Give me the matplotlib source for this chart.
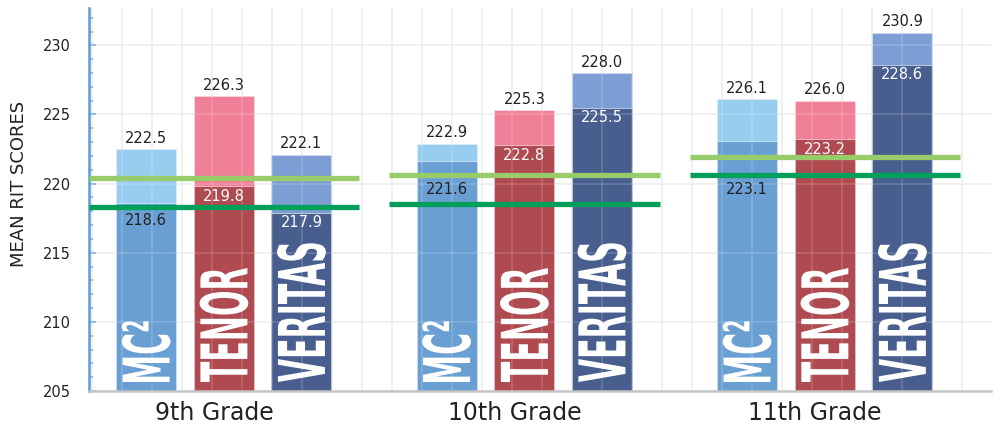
import numpy as np
import matplotlib.pyplot as plt
from matplotlib.textpath import TextPath
from matplotlib.patches import PathPatch
from matplotlib.font_manager import FontProperties
from matplotlib.transforms import Affine2D, ScaledTranslation

grades = ['9th Grade', '10th Grade', '11th Grade']
schools = ['MC²', 'TENOR', 'VERITAS']

# lower (darker) and upper (lighter) mean RIT scores per school, per grade
low_scores = {
    'MC²': [218.6, 221.6, 223.1],
    'TENOR': [219.8, 222.8, 223.2],
    'VERITAS': [217.9, 225.5, 228.6],
}
high_scores = {
    'MC²': [222.5, 222.9, 226.1],
    'TENOR': [226.3, 225.3, 226.0],
    'VERITAS': [222.1, 228.0, 230.9],
}
# reference lines per grade
norm_light = [220.4, 220.6, 221.9]
norm_dark = [218.3, 218.5, 220.6]

low_colors = {'MC²': '#6a9fd4', 'TENOR': '#ae4a50', 'VERITAS': '#475e8f'}
high_colors = {'MC²': '#97cdef', 'TENOR': '#f08098', 'VERITAS': '#7d9ed4'}
low_text = {'MC²': '#222222', 'TENOR': 'white', 'VERITAS': 'white'}

YMIN, YMAX = 205, 232.7
offsets = [-0.259, 0, 0.258]
width = 0.2

fig = plt.figure(figsize=(9.94, 4.30), dpi=100)
ax = fig.add_axes([89 / 994, 39 / 430, (991 - 89) / 994, (391 - 8) / 430])
ax.set_xlim(-0.449, 2.553)
ax.set_ylim(YMIN, YMAX)

# grid (behind the bars) + faint white overlay on top so it shows through
grid_x = np.arange(-0.4393, 2.56, 0.0998)
for gx in grid_x:
    ax.axvline(gx, color='#e9e9e9', lw=1.1, zorder=0)
    ax.axvline(gx, color='white', lw=1.1, alpha=0.18, zorder=2.5)
for gy in range(210, 231, 5):
    ax.axhline(gy, color='#e9e9e9', lw=1.1, zorder=0)
    ax.axhline(gy, color='white', lw=1.1, alpha=0.18, zorder=2.5)

x = np.arange(len(grades))
for s, off in zip(schools, offsets):
    lo = np.array(low_scores[s])
    hi = np.array(high_scores[s])
    ax.bar(x + off, lo - YMIN, width, bottom=YMIN, color=low_colors[s],
           edgecolor='#ffffff40', lw=0.8, zorder=2)
    ax.bar(x + off, hi - lo, width, bottom=lo, color=high_colors[s],
           edgecolor='#ffffff40', lw=0.8, zorder=2)

# green lines
for i in range(len(grades)):
    ax.plot([i - 0.45, i + 0.45], [norm_light[i]] * 2, color='#98cc6a', lw=3.8,
            solid_capstyle='butt', zorder=3)
    ax.plot([i - 0.45, i + 0.45], [norm_dark[i]] * 2, color='#00a05a', lw=3.8,
            solid_capstyle='butt', zorder=3)

# value labels
lab_h = 12 / 13.83
for s, off in zip(schools, offsets):
    for i in range(len(grades)):
        hi = high_scores[s][i]
        lo = low_scores[s][i]
        ax.annotate(f'{hi:.1f}', (i + off, hi), xytext=(0, 2.5), textcoords='offset points',
                    ha='center', va='bottom', fontsize=10.5, color='#222222', zorder=5)
        # keep the inner label clear of the green lines
        top = lo - 0.2
        for _ in range(3):
            for ly in sorted([norm_light[i], norm_dark[i]], reverse=True):
                if top - lab_h - 0.15 <= ly <= top + 0.15:
                    top = ly - 0.45
        ax.text(i + off, top, f'{lo:.1f}', ha='center', va='top', fontsize=10.5,
                color=low_text[s], zorder=5)

# big rotated school names inside bars
fp = FontProperties(family='DejaVu Sans', weight='bold')
ref_len = TextPath((0, 0), 'TENOR', size=1, prop=fp).get_extents().width
cap = TextPath((0, 0), 'T', size=1, prop=fp).get_extents().height
ky = (114 / 13.83) / ref_len
kx = (47 / 300.5) / cap
y0 = YMIN + 9 / 13.83
for s, off in zip(schools, offsets):
    tp = TextPath((0, 0), s, size=1, prop=fp)
    u0 = tp.get_extents().x0
    for i in range(len(grades)):
        xc = i + off
        tr = Affine2D.from_values(0, ky, -kx, 0, xc + kx * cap / 2, y0 - u0 * ky) + ax.transData
        ax.add_patch(PathPatch(tp, transform=tr, facecolor='white', edgecolor='none', zorder=4))

# axes styling
for sp in ['top', 'right']:
    ax.spines[sp].set_visible(False)
ax.spines['left'].set_color('#5b9bd5')
ax.spines['left'].set_linewidth(1.8)
ax.spines['bottom'].set_color('#c4c4c4')
ax.spines['bottom'].set_linewidth(1.8)

ax.set_yticks(range(205, 231, 5))
ax.set_yticks(range(205, 233), minor=True)
ax.tick_params(axis='y', which='major', direction='in', length=5, width=1.4,
               color='#7fb0e0', labelsize=10.5, labelcolor='#222222', pad=13)
ax.tick_params(axis='y', which='minor', direction='in', length=3, width=1.2, color='#6fa3d8')

ax.set_xticks(x, grades)
ax.tick_params(axis='x', length=0, labelsize=17, labelcolor='#222222', pad=7)
shift = ScaledTranslation(-10 / 100, 0, fig.dpi_scale_trans)
for t in ax.get_xticklabels():
    t.set_transform(t.get_transform() + shift)

ax.set_ylabel('MEAN RIT SCORES', fontsize=13, color='#222222')
ax.yaxis.set_label_coords(-0.0676, 0.54)

fig.savefig('out.png', dpi=100)
